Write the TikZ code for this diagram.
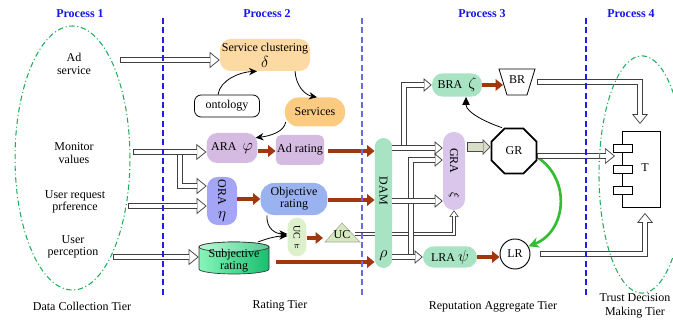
\documentclass[tikz,border=0pt]{standalone}
\usepackage{fontspec}
\setmainfont{Liberation Serif}
\usepackage{graphicx}
\usetikzlibrary{arrows.meta,calc,shapes.geometric,backgrounds}

\definecolor{procblue}{RGB}{20,20,235}
\definecolor{dashblue}{RGB}{30,30,230}
\definecolor{dashblueL}{RGB}{105,105,240}
\definecolor{ellgreen}{RGB}{30,175,90}
\definecolor{orangeA}{RGB}{253,217,163}
\definecolor{orangeB}{RGB}{252,203,130}
\definecolor{lilac}{RGB}{213,186,226}
\definecolor{lilacG}{RGB}{218,197,235}
\definecolor{oraBlue}{RGB}{165,165,246}
\definecolor{objBlue}{RGB}{155,178,240}
\definecolor{ucGreen}{RGB}{221,240,204}
\definecolor{ucTri}{RGB}{214,232,190}
\definecolor{mint}{RGB}{168,228,196}
\definecolor{subjL}{RGB}{135,245,185}
\definecolor{subjD}{RGB}{25,190,110}
\definecolor{rust}{RGB}{160,55,15}
\definecolor{grayg}{RGB}{217,222,201}
\definecolor{bright}{RGB}{50,190,50}

% hollow block arrow: head path first, then the double-line shaft over it
\newcommand\blockarrow[4]{\draw[#1] #3 #4; \draw[hshaft,#2] #3 #4;}
% closing line at the tail of a horizontal block arrow
\newcommand\tailcap[2]{\draw[capln] ($#1+(0,-#2)$) -- ($#1+(0,#2)$);}

\begin{document}
\begin{tikzpicture}[x=0.75pt, y=-0.75pt,
  font=\fontsize{9}{10}\selectfont,
  blk/.style={inner sep=1pt, align=center},
  ttl/.style={text=procblue, font=\fontsize{9}{10}\selectfont\bfseries},
  hshaft/.style={draw=black!75, line width=0.55pt, double=white, double distance=3.6pt},
  headL/.style={draw=black!75, line width=0.55pt, -{Triangle[fill=white, length=7.5pt, width=12pt]}},
  headS/.style={draw=black!75, line width=0.55pt, -{Triangle[fill=white, length=6pt, width=10pt]}},
  capln/.style={draw=black!75, line width=0.55pt},
  brn/.style={draw=rust, line width=3pt, -{Triangle[length=5.5pt, width=8.5pt]}},
  crv/.style={draw=black, line width=0.6pt, -{Stealth[length=6pt, width=5.5pt]}},
  crvT/.style={draw=black, line width=0.6pt, -{Triangle[length=6pt, width=5.5pt]}},
  grn/.style={draw=bright, line width=2pt, -{Stealth[length=8pt, width=8pt]}},
  ellg/.style={draw=ellgreen, line width=0.8pt, dash pattern=on 4pt off 2pt on 0.8pt off 2pt},
  dsh/.style={line width=0.8pt, dash pattern=on 4.5pt off 2.5pt},
]
\useasboundingbox (0,0) rectangle (673,320);

% ---------- data collection tier: sources
\node[blk] (adserv) at (74,64) {Ad\\service};
\node[blk] (monval) at (74,153) {Monitor\\values};
\node[blk, font=\fontsize{9}{8.5}\selectfont] (userreq) at (75,202) {User request\\prference};
\node[blk, font=\fontsize{9}{8.5}\selectfont] (userperc) at (73,247) {User\\perception};

\coordinate (adserv-out) at (120,60);
\coordinate (mon-out) at (133,152);
\coordinate (mon-br) at (180,152);
\coordinate (req-out) at (128,206);
\coordinate (perc-out) at (113,257);

% ---------- rating tier
\node[blk, fill=orangeA, rounded corners=8pt, minimum width=67.5pt, minimum height=24pt] (sc) at (265,55) {Service clustering\\[0.5pt]{\large$\delta$}};
\node[blk, draw, fill=white, line width=0.6pt, rounded corners=5pt, minimum width=48.75pt, minimum height=16.5pt] (onto) at (227,106) {ontology};
\node[blk, fill=orangeB, rounded corners=10pt, minimum width=45pt, minimum height=21.75pt] (serv) at (315,112) {Services};
\node[blk, fill=lilac, rounded corners=8pt, minimum width=38pt, minimum height=22.5pt] (ara) at (232,148) {ARA\ \ {\large$\varphi$}};
\node[blk, fill=lilac, rounded corners=4pt, minimum width=35pt, minimum height=22.5pt] (adr) at (300,150) {Ad rating};
\node[blk, fill=oraBlue, rounded corners=8pt, minimum width=22.5pt, minimum height=36pt] (ora) at (222,201) {\rotatebox{-90}{ORA}\\[4pt]{\large$\eta$}};
\node[blk, fill=objBlue, rounded corners=10pt, minimum width=50pt, minimum height=24pt] (obj) at (294,199) {Objective\\[-1pt]rating};
\node[blk, fill=ucGreen, rounded corners=7pt, minimum width=14pt, minimum height=29pt, font=\fontsize{7.5}{8}\selectfont] (ucp) at (297,237) {\rotatebox{-90}{UC}\\[3pt]$\pi$};

% UC triangle
\path[draw=black!35, fill=ucTri] (325,242) -- (342,223) -- (360,242) -- cycle;
\node[blk] (uct) at (342,235) {UC};
\coordinate (uct-in) at (323,238);
\coordinate (uc-out) at (355,234);

% subjective rating drum
\node[blk, minimum width=52.5pt, minimum height=24pt] (subj) at (234,261) {};
\path[draw=black!80, line width=0.5pt, left color=subjL, right color=subjD]
  ($(subj)+(-35,-14)$) -- ($(subj)+(-35,8)$)
  arc[start angle=180, end angle=360, x radius=26.25pt, y radius=3.75pt]
  -- ($(subj)+(35,-14)$)
  arc[start angle=0, end angle=180, x radius=26.25pt, y radius=3.75pt] -- cycle;
\path[draw=black!80, line width=0.5pt, left color=subjL!60!white, right color=subjD!75!white]
  ($(subj)+(0,-14)$) ellipse[x radius=26.25pt, y radius=3.75pt];
\node[blk] (subjtxt) at (subj) {Subjective\\[-1pt]rating};

% ---------- reputation aggregate tier
\node[fill=mint, rounded corners=6.5pt, minimum width=13pt, minimum height=97.5pt, inner sep=0] (dam) at (383.5,203) {};
\node[rotate=-90] (damtxt) at (383.5,191) {DAM};
\node (damrho) at (383.5,256) {\large$\rho$};

\node[fill=lilacG, rounded corners=8pt, minimum width=16.5pt, minimum height=58.5pt, inner sep=0] (gra) at (454,171) {};
\node[rotate=-90] (gratxt) at (454,161) {GRA};
\node[rotate=-90] (graxi) at (454,195) {$\xi$};

\node[regular polygon, regular polygon sides=8, draw, line width=1.3pt, minimum size=36.5pt, inner sep=0] (gr) at (514,151) {GR};
\node[blk, fill=mint, rounded corners=8pt, minimum width=37.5pt, minimum height=17.5pt] (bra) at (457,85) {BRA\ \ {\large$\zeta$}};

\path[draw, line width=0.6pt, fill=white] (499,69) -- (535,69) -- (527,95) -- (507,95) -- cycle;
\node (br) at (517,80) {BR};
\coordinate (br-in) at (503,85);
\coordinate (br-out) at (537,82);

\node[blk, fill=mint, rounded corners=8pt, minimum width=40.5pt, minimum height=16pt] (lra) at (450,257) {LRA\ {\large$\psi$}};
\node[circle, draw, line width=0.7pt, minimum size=22.5pt, inner sep=0] (lr) at (515,254) {LR};

\coordinate (dam-br1) at (404,148);
\coordinate (dam-br2) at (411,256);

% ---------- trust decision making tier
\node[draw, line width=0.7pt, minimum width=28.5pt, minimum height=57pt, inner sep=0] (tbox) at (641,169.5) {};
\node (tlbl) at (645,168) {T};
\foreach \n/\yy in {t1/148, t2/169.5, t3/190}
  \node[draw, fill=white, line width=0.6pt, minimum width=14.25pt, minimum height=6pt, inner sep=0] (\n) at (622.5,\yy) {};
\coordinate (t-port) at (615,156);

% ---------- block arrows of the collection tier
\blockarrow{headL}{shorten >=7pt}{(adserv-out)}{-- (sc.west |- adserv-out)}
\tailcap{(adserv-out)}{3.1}
\blockarrow{headL}{shorten >=7pt}{(mon-br)}{|- ($(ora.west)+(0,-15)$)}
\blockarrow{headL}{shorten >=7pt}{(mon-out)}{-- (ara.west |- mon-out)}
\tailcap{(mon-out)}{3.1}
\blockarrow{headL}{shorten >=7pt}{(req-out)}{-- (ora.west |- req-out)}
\tailcap{(req-out)}{3.1}
\blockarrow{headL}{shorten >=7pt}{(perc-out)}{-- (subj.west |- perc-out)}
\tailcap{(perc-out)}{3.1}

% ---------- rating tier links
\draw[crv] ($(onto.north)+(-9,0)$) .. controls (220,80) and (240,72) .. ($(sc.south)+(-8,0)$);
\draw[crv] ($(sc.south)+(30,0)$) .. controls (296,86) and (305,95) .. ($(serv.north)+(2,0)$);
\draw[crv] ($(serv.west)+(1,10)$) .. controls (284,132) and (270,136) .. ($(ara.north east)+(-2,5)$);
\draw[crv] ($(obj.south)+(-27,0)$) .. controls (266,229) and (276,234) .. ($(ucp.west)+(0,-3)$);
\draw[crv] ($(subj)+(24,-19)$) .. controls (268,238) and (278,236) .. ($(ucp.west)+(0,-1)$);

\draw[brn] (ara.east |- 0,151) -- (adr.west |- 0,151);
\draw[brn, shorten <=3pt] (adr.east |- 0,151) -- (dam.west |- 0,151);
\draw[brn] (ora.east |- 0,199) -- (obj.west |- 0,199);
\draw[brn] (obj.east |- 0,200) -- (dam.west |- 0,200);
\draw[brn] (ucp.east |- 0,238) -- (uct-in);
\draw[brn] ($(subj.east |- 0,262)+(7,0)$) -- (dam.west |- 0,262);

% ---------- aggregation links
\begin{scope}[on background layer]
  \draw[draw=black!75, line width=0.45pt, -{Triangle[fill=white, length=5pt, width=7pt]}] (uc-out) -| (gra.south);
  \draw[draw=black!75, line width=0.45pt, double=white, double distance=1.6pt, shorten >=4.6pt] (uc-out) -| (gra.south);
\end{scope}

\blockarrow{headS}{shorten >=5.5pt}{(dam-br1)}{|- (bra.west)}
\blockarrow{headS}{shorten >=5.5pt}{(dam.east |- 0,148)}{-- (gra.west |- 0,148)}
\blockarrow{headS}{shorten >=5.5pt}{(dam-br2)}{|- (gra.west |- 0,160)}
\blockarrow{headS}{shorten >=5.5pt}{(dam.east |- 0,201)}{-- (gra.west |- 0,201)}
\blockarrow{headS}{shorten >=5.5pt}{(dam.east |- lra.west)}{-- (lra.west)}

\draw[draw=black!70, line width=0.6pt, -{Triangle[fill=grayg, length=6pt, width=12pt]}] ($(gra.east |- 0,147)+(2,0)$) -- (gr.west |- 0,147);
\draw[draw=black!70, line width=0.6pt, double=grayg, double distance=6pt, shorten >=5.5pt] ($(gra.east |- 0,147)+(2,0)$) -- (gr.west |- 0,147);
\tailcap{($(gra.east |- 0,147)+(2,0)$)}{4.8}

\draw[brn] (bra.east) -- (br-in);
\draw[brn] (lra.east) -- (lr.west |- lra.east);
\draw[crvT] ($(gr.north)+(-12,0)$) .. controls (485,122) and (466,112) .. ($(bra.south)+(9,0)$);
\draw[grn] (gr.-15) .. controls (572,180) and (566,232) .. (lr.30);

% ---------- links into the trust decision
\blockarrow{headL}{shorten >=7pt}{(gr.east |- t-port)}{-- (t-port)}
\tailcap{(gr.east |- t-port)}{3.1}
\blockarrow{headL}{shorten >=7pt}{(br-out)}{-| ($(tbox.north)+(-1,-7)$)}
\tailcap{(br-out)}{3.1}
\blockarrow{headL}{shorten >=7pt}{($(lr.east)+(10,0)$)}{-| ($(tbox.south)+(4,5)$)}
\tailcap{($(lr.east)+(10,0)$)}{3.1}

% ---------- tier outlines and separators
\draw[ellg] (72.5,158) ellipse[x radius=43.1pt, y radius=99pt];
\draw[ellg] (642,174.5) ellipse[x radius=32.25pt, y radius=89pt];
\draw[dsh, draw=dashblue] (163,18) -- (163,298);
\draw[dsh, draw=dashblueL] (362,18) -- (362,298);
\draw[dsh, draw=dashblue] (586,18) -- (586,298);

% ---------- headings and tier names
\node[ttl] (p1) at (80,14) {Process 1};
\node[ttl] (p2) at (267,14) {Process 2};
\node[ttl] (p3) at (482,14) {Process 3};
\node[ttl] (p4) at (631,14) {Process 4};
\node (tier1) at (82,306) {Data Collection Tier};
\node (tier2) at (280,306) {Rating Tier};
\node (tier3) at (493,307) {Reputation Aggregate Tier};
\node[align=center, font=\fontsize{9}{10.5}\selectfont] (tier4) at (635,306) {Trust Decision\\Making Tier};
\end{tikzpicture}
\end{document}
